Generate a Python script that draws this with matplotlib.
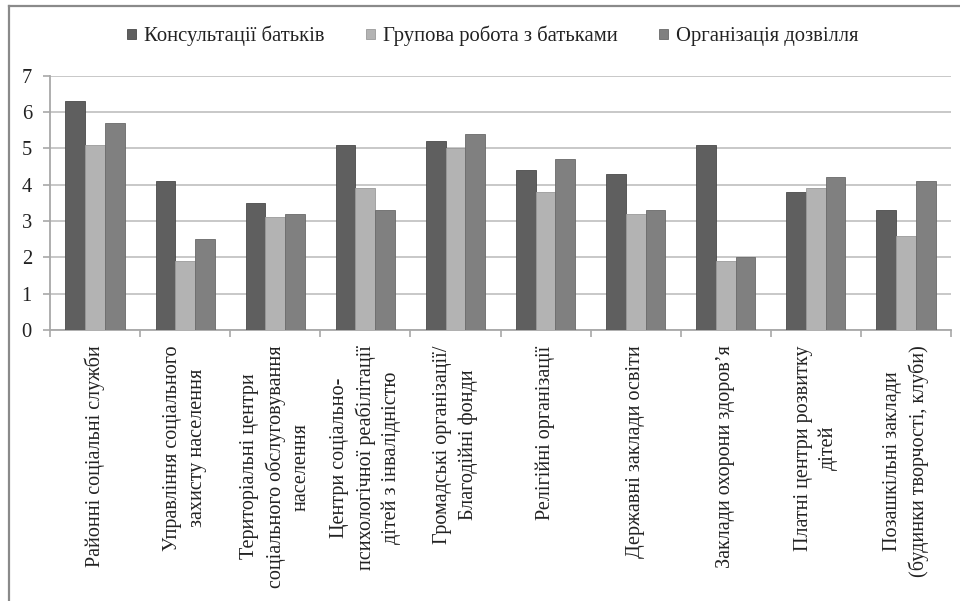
import matplotlib
matplotlib.use("Agg")
import matplotlib.pyplot as plt
import numpy as np
from matplotlib.lines import Line2D

plt.rcParams['font.family'] = ['Liberation Serif', 'DejaVu Serif']

categories = [
    "Районні соціальні служби",
    "Управління соціального\nзахисту населення",
    "Територіальні центри\nсоціального обслуговування\nнаселення",
    "Центри соціально-\nпсихологічної реабілітації\nдітей з інвалідністю",
    "Громадські організації/\nБлагодійні фонди",
    "Релігійні організації",
    "Державні заклади освіти",
    "Заклади охорони здоров’я",
    "Платні центри розвитку\nдітей",
    "Позашкільні заклади\n(будинки творчості, клуби)",
]
series_names = ["Консультації батьків", "Групова робота з батьками", "Організація дозвілля"]
consultations = [6.3, 4.1, 3.5, 5.1, 5.2, 4.4, 4.3, 5.1, 3.8, 3.3]
group_work = [5.1, 1.9, 3.1, 3.9, 5.0, 3.8, 3.2, 1.9, 3.9, 2.6]
leisure = [5.7, 2.5, 3.2, 3.3, 5.4, 4.7, 3.3, 2.0, 4.2, 4.1]
yticks = [0, 1, 2, 3, 4, 5, 6, 7]

colors = ["#5f5f5f", "#b3b3b3", "#808080"]
edges = ["#4a4a4a", "#9a9a9a", "#6a6a6a"]

W, H = 960, 601
fig = plt.figure(figsize=(W / 100, H / 100), dpi=100)
ax = fig.add_axes([50 / W, (H - 330) / H, (951 - 50) / W, (330 - 75.7) / H])

x = np.arange(len(categories))
bw = 0.219
handles = []
for i, (vals, name) in enumerate(zip([consultations, group_work, leisure], series_names)):
    b = ax.bar(x + (i - 1) * bw, vals, width=bw, color=colors[i], edgecolor=edges[i],
               linewidth=0.6, label=name, zorder=3)
    handles.append(b)

ax.set_xlim(-0.5, len(categories) - 0.5)
ax.set_ylim(0, 7)
ax.set_yticks(yticks)
ax.set_yticklabels([str(v) for v in yticks], fontsize=14.8)
ax.yaxis.grid(True, color="#c4c4c4", linewidth=1.3, zorder=0)
ax.set_axisbelow(True)

ax.set_xticks(x)
ax.set_xticklabels(categories, rotation=90, fontsize=14.5, ha="center", va="top",
                   multialignment="center", linespacing=1.42)
ax.set_xticks(np.arange(len(categories) + 1) - 0.5, minor=True)
ax.tick_params(axis="x", which="major", length=0, pad=11)
ax.tick_params(axis="x", which="minor", length=5, width=1.2, color="#a8a8a8")
ax.tick_params(axis="y", length=5, width=1.2, color="#a8a8a8", pad=8, labelcolor="#222222")
for lab in ax.get_xticklabels():
    lab.set_color("#222222")

for s in ["top", "right"]:
    ax.spines[s].set_visible(False)
for s in ["left", "bottom"]:
    ax.spines[s].set_color("#a8a8a8")
    ax.spines[s].set_linewidth(1.3)

leg = fig.legend(handles=handles, loc="center", bbox_to_anchor=(493 / W, 1 - 36 / H),
                 ncol=3, frameon=False, fontsize=14.9, handlelength=0.42, handleheight=0.42,
                 handletextpad=0.4, columnspacing=2.0, borderaxespad=0)
for t in leg.get_texts():
    t.set_color("#222222")

# outer frame (left and top edges)
fig.add_artist(Line2D([8.5 / W, 8.5 / W], [0, 1 - 6 / H], transform=fig.transFigure,
                      color="#8a8a8a", linewidth=1.6))
fig.add_artist(Line2D([8.5 / W, 1], [1 - 6 / H, 1 - 6 / H], transform=fig.transFigure,
                      color="#8a8a8a", linewidth=1.6))

fig.savefig("out.png", dpi=100)
